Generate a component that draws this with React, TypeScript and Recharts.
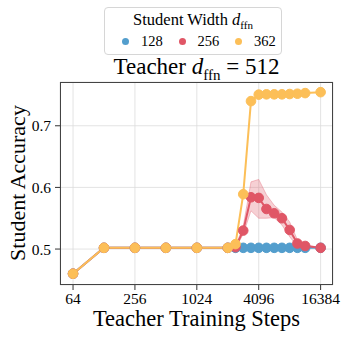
import React from 'react'
import { ComposedChart, Line, Area, XAxis, YAxis, CartesianGrid } from 'recharts'

const steps = [64, 128, 256, 512, 1024, 2048, 2435, 2896, 3444, 4096, 4871, 5793, 6889, 8192, 9742, 11585, 16384]
const width128 = [0.46, 0.502, 0.502, 0.502, 0.502, 0.502, 0.502, 0.502, 0.502, 0.502, 0.502, 0.502, 0.502, 0.502, 0.502, 0.502, 0.502]
const width256 = [0.46, 0.502, 0.502, 0.502, 0.502, 0.502, 0.503, 0.53, 0.584, 0.583, 0.565, 0.558, 0.55, 0.531, 0.509, 0.505, 0.502]
const width256Low = [0.46, 0.502, 0.502, 0.502, 0.502, 0.502, 0.502, 0.524, 0.562, 0.55, 0.55, 0.551, 0.539, 0.52, 0.504, 0.503, 0.502]
const width256High = [0.46, 0.502, 0.502, 0.502, 0.502, 0.502, 0.505, 0.537, 0.609, 0.613, 0.588, 0.571, 0.56, 0.544, 0.515, 0.507, 0.502]
const width362 = [0.46, 0.502, 0.502, 0.502, 0.502, 0.502, 0.508, 0.589, 0.74, 0.7505, 0.751, 0.751, 0.751, 0.7515, 0.752, 0.753, 0.7545]

const xTicks = [64, 256, 1024, 4096, 16384]
const yTicks = [0.5, 0.6, 0.7]

const legendItems = [
  { label: '128', color: '#539ecd' },
  { label: '256', color: '#e05666' },
  { label: '362', color: '#fcbf58' },
]

const data = steps.map((s, i) => ({
  step: s,
  w128: width128[i],
  w256: width256[i],
  band256: [width256Low[i], width256High[i]],
  w362: width362[i],
}))

const serif = '"Liberation Serif", "DejaVu Serif", serif'

export default function App() {
  const dot = (color: string) => ({ r: 4.8, fill: color, stroke: color, strokeWidth: 1 })

  return (
    <div style={{ position: 'absolute', left: 0, top: 0, width: 349, height: 339, background: '#fff', fontFamily: serif }}>
      {/* legend */}
      <div style={{ position: 'absolute', left: 104, top: 7, width: 178, height: 48, border: '1px solid #d6d6d6', borderRadius: 4, boxSizing: 'border-box' }}>
        <div style={{ position: 'absolute', top: 2, width: '100%', textAlign: 'center', fontSize: 16.5 }}>
          Student Width <i>d</i><sub style={{ fontSize: 11 }}>ffn</sub>
        </div>
        {legendItems.map((it, i) => (
          <div key={it.label} style={{ position: 'absolute', top: 25, left: 17 + i * 56.5, display: 'flex', alignItems: 'center', fontSize: 14.5 }}>
            <span style={{ width: 7, height: 7, borderRadius: '50%', background: it.color, display: 'inline-block', marginRight: 12 }} />
            {it.label}
          </div>
        ))}
      </div>

      <div style={{ position: 'absolute', left: 60, width: 273, top: 54, textAlign: 'center', fontSize: 23, lineHeight: '26px' }}>
        Teacher <i>d</i><sub style={{ fontSize: 15 }}>ffn</sub> = 512
      </div>

      <div style={{ position: 'absolute', left: 18, top: 183, transform: 'translate(-50%, -50%) rotate(-90deg)', fontSize: 22, whiteSpace: 'nowrap' }}>
        Student Accuracy
      </div>

      <div style={{ position: 'absolute', left: 60, width: 273, top: 306, textAlign: 'center', fontSize: 22.5 }}>
        Teacher Training Steps
      </div>

      <ComposedChart width={349} height={339} data={data} margin={{ top: 82, right: 16, bottom: 34, left: 10 }} style={{ position: 'absolute', left: 0, top: 0 }}>
        <CartesianGrid stroke="#dcdcdc" strokeWidth={0.8} />
        <XAxis
          dataKey="step"
          type="number"
          scale="log"
          domain={[47.8, 21619]}
          ticks={xTicks}
          allowDataOverflow
          axisLine={false}
          tickLine={{ stroke: '#333' }}
          tickSize={5}
          tickMargin={3}
          height={20}
          tick={{ fontFamily: serif, fontSize: 15.5, fill: '#000' }}
        />
        <YAxis
          type="number"
          domain={[0.4417, 0.771]}
          ticks={yTicks}
          allowDataOverflow
          axisLine={false}
          tickLine={{ stroke: '#333' }}
          tickSize={5}
          tickMargin={4}
          width={50}
          tickFormatter={(v: number) => v.toFixed(1)}
          tick={{ fontFamily: serif, fontSize: 15.5, fill: '#000' }}
        />
        <Line dataKey="w128" stroke="#539ecd" strokeWidth={2} dot={dot('#539ecd')} isAnimationActive={false} />
        <Area dataKey="band256" stroke="#e05666" strokeOpacity={0.35} fill="#e05666" fillOpacity={0.28} isAnimationActive={false} />
        <Line dataKey="w256" stroke="#e05666" strokeWidth={2} dot={dot('#e05666')} isAnimationActive={false} />
        <Line dataKey="w362" stroke="#fcbf58" strokeWidth={2} dot={dot('#fcbf58')} isAnimationActive={false} />
      </ComposedChart>

      <div style={{ position: 'absolute', left: 59.5, top: 81.5, width: 273.5, height: 203.5, border: '1.2px solid #444', boxSizing: 'border-box', pointerEvents: 'none' }} />
    </div>
  )
}
